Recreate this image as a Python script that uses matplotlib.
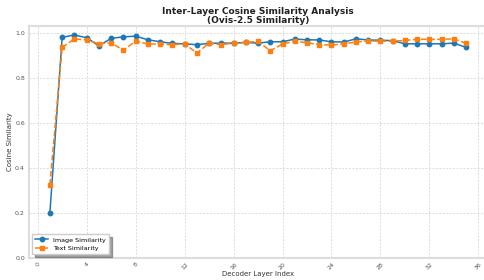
import matplotlib
matplotlib.use("Agg")
import matplotlib.pyplot as plt
import numpy as np

# layer indices 1..35
layers = list(range(1, 36))

image_sim = [0.200, 0.980, 0.990, 0.978, 0.942, 0.975, 0.982, 0.985, 0.969, 0.960,
             0.953, 0.951, 0.947, 0.953, 0.954, 0.954, 0.957, 0.954, 0.960, 0.960,
             0.972, 0.969, 0.968, 0.960, 0.959, 0.973, 0.968, 0.967, 0.965, 0.951,
             0.951, 0.951, 0.951, 0.954, 0.935]

text_sim = [0.325, 0.935, 0.973, 0.968, 0.951, 0.956, 0.922, 0.963, 0.950, 0.950,
            0.947, 0.951, 0.910, 0.954, 0.947, 0.954, 0.957, 0.962, 0.920, 0.950,
            0.962, 0.956, 0.947, 0.945, 0.951, 0.959, 0.963, 0.963, 0.963, 0.966,
            0.971, 0.971, 0.971, 0.973, 0.953]

xticks = list(range(0, 37, 4))

fig = plt.figure(figsize=(4.85, 2.8), dpi=100)
ax = fig.add_axes([0.06, 0.08, 0.944, 0.827])

ax.plot(layers, image_sim, color="#1f77b4", marker="o", markersize=3.2,
        linewidth=1.1, label="Image Similarity")
ax.plot(layers, text_sim, color="#ff7f0e", marker="s", markersize=3.5,
        linewidth=1.1, linestyle="--", label="Text Similarity")

ax.set_xlim(-0.7, 36.7)
ax.set_ylim(0, 1.03)
ax.set_xticks(xticks)
ax.set_yticks([0.0, 0.2, 0.4, 0.6, 0.8, 1.0])
ax.tick_params(axis="x", labelrotation=45, labelsize=4.5, colors="#555555", length=0, pad=3)
ax.tick_params(axis="y", labelsize=4.5, colors="#555555", length=0, pad=3)
ax.grid(True, linestyle=(0, (3, 2)), linewidth=0.5, color="#d0d0d0")

for s in ax.spines.values():
    s.set_color("#dddddd")
    s.set_linewidth(1.5)

ax.set_title("Inter-Layer Cosine Similarity Analysis\n(Ovis-2.5 Similarity)",
             fontsize=6.5, fontweight="bold", color="#222222", pad=2, linespacing=1.05)
ax.set_xlabel("Decoder Layer Index", fontsize=5, color="#333333", labelpad=0)
ax.set_ylabel("Cosine Similarity", fontsize=5, color="#333333", labelpad=1.5)

ax.legend(loc="lower left", fontsize=4.6, frameon=True, shadow=True, fancybox=False,
          handlelength=2.0, borderpad=0.5)

plt.savefig("out.png", dpi=100)
